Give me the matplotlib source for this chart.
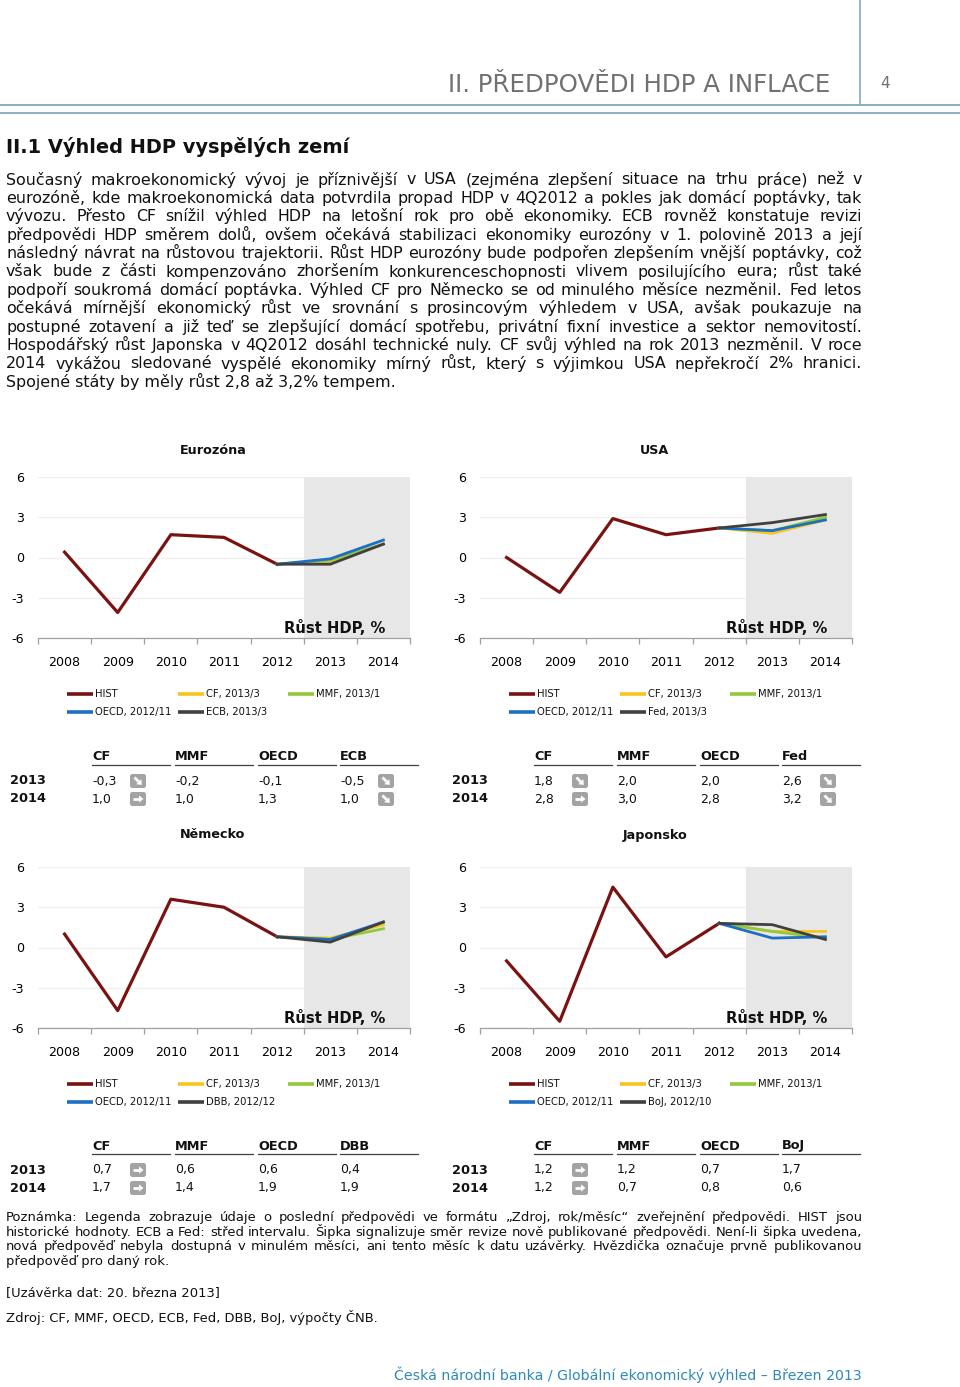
import numpy as np
import matplotlib
matplotlib.use("Agg")
import matplotlib.pyplot as plt
from matplotlib.patches import FancyBboxPatch

W, H = 960, 1387
FONT = "DejaVu Sans"

# ---- data -------------------------------------------------------------
years = ["2008", "2009", "2010", "2011", "2012", "2013", "2014"]
sources = ["CF", "MMF", "OECD"]

ez_hist = [0.4, -4.1, 1.7, 1.5, -0.5]
ez_fc13 = [-0.3, -0.2, -0.1, -0.5]
ez_fc14 = [1.0, 1.0, 1.3, 1.0]
ez_labels = ["HIST", "CF, 2013/3", "MMF, 2013/1", "OECD, 2012/11", "ECB, 2013/3"]
ez_arrows = [("d", "r"), None, None, ("d", "d")]

us_hist = [0.0, -2.6, 2.9, 1.7, 2.2]
us_fc13 = [1.8, 2.0, 2.0, 2.6]
us_fc14 = [2.8, 3.0, 2.8, 3.2]
us_labels = ["HIST", "CF, 2013/3", "MMF, 2013/1", "OECD, 2012/11", "Fed, 2013/3"]
us_arrows = [("d", "r"), None, None, ("d", "d")]

de_hist = [1.0, -4.7, 3.6, 3.0, 0.8]
de_fc13 = [0.7, 0.6, 0.6, 0.4]
de_fc14 = [1.7, 1.4, 1.9, 1.9]
de_labels = ["HIST", "CF, 2013/3", "MMF, 2013/1", "OECD, 2012/11", "DBB, 2012/12"]
de_arrows = [("r", "r"), None, None, None]

jp_hist = [-1.0, -5.5, 4.5, -0.7, 1.8]
jp_fc13 = [1.2, 1.2, 0.7, 1.7]
jp_fc14 = [1.2, 0.7, 0.8, 0.6]
jp_labels = ["HIST", "CF, 2013/3", "MMF, 2013/1", "OECD, 2012/11", "BoJ, 2012/10"]
jp_arrows = [("r", "r"), None, None, None]

yticks = [-6, -3, 0, 3, 6]

header = "II. PŘEDPOVĚDI HDP A INFLACE"
heading = "II.1 Výhled HDP vyspělých zemí"
body = [
    "Současný makroekonomický vývoj je příznivější v USA (zejména zlepšení situace na trhu práce) než v",
    "eurozóně, kde makroekonomická data potvrdila propad HDP v 4Q2012 a pokles jak domácí poptávky, tak",
    "vývozu. Přesto CF snížil výhled HDP na letošní rok pro obě ekonomiky. ECB rovněž konstatuje revizi",
    "předpovědi HDP směrem dolů, ovšem očekává stabilizaci ekonomiky eurozóny v 1. polovině 2013 a její",
    "následný návrat na růstovou trajektorii. Růst HDP eurozóny bude podpořen zlepšením vnější poptávky, což",
    "však bude z části kompenzováno zhoršením konkurenceschopnosti vlivem posilujícího eura; růst také",
    "podpoří soukromá domácí poptávka. Výhled CF pro Německo se od minulého měsíce nezměnil. Fed letos",
    "očekává mírnější ekonomický růst ve srovnání s prosincovým výhledem v USA, avšak poukazuje na",
    "postupné zotavení a již teď se zlepšující domácí spotřebu, privátní fixní investice a sektor nemovitostí.",
    "Hospodářský růst Japonska v 4Q2012 dosáhl technické nuly. CF svůj výhled na rok 2013 nezměnil. V roce",
    "2014 vykážou sledované vyspělé ekonomiky mírný růst, který s výjimkou USA nepřekročí 2% hranici.",
    "Spojené státy by měly růst 2,8 až 3,2% tempem.",
]
note = [
    "Poznámka: Legenda zobrazuje údaje o poslední předpovědi ve formátu „Zdroj, rok/měsíc“ zveřejnění předpovědi. HIST jsou",
    "historické hodnoty. ECB a Fed: střed intervalu. Šipka signalizuje směr revize nově publikované předpovědi. Není-li šipka uvedena,",
    "nová předpověď nebyla dostupná v minulém měsíci, ani tento měsíc k datu uzávěrky. Hvězdička označuje prvně publikovanou",
    "předpověď pro daný rok.",
]
closing = "[Uzávěrka dat: 20. března 2013]"
source = "Zdroj: CF, MMF, OECD, ECB, Fed, DBB, BoJ, výpočty ČNB."
footer = "Česká národní banka / Globální ekonomický výhled – Březen 2013"

colors = ["#f7c51e", "#92c83e", "#1c6fc4", "#404040"]
c_hist = "#7a1212"
c_line = "#7fa9c3"

panels = [
    ("Eurozóna", ez_hist, ez_fc13, ez_fc14, ez_labels, ez_arrows, 0, 0),
    ("USA", us_hist, us_fc13, us_fc14, us_labels, us_arrows, 442, 0),
    ("Německo", de_hist, de_fc13, de_fc14, de_labels, de_arrows, 0, 390),
    ("Japonsko", jp_hist, jp_fc13, jp_fc14, jp_labels, jp_arrows, 442, 390),
]

# ---- page -------------------------------------------------------------
fig = plt.figure(figsize=(W / 100, H / 100), dpi=100)
renderer = fig.canvas.get_renderer()
page = fig.add_axes([0, 0, 1, 1])
page.set_xlim(0, W)
page.set_ylim(H, 0)
page.axis("off")


def width_of(s, size, weight="normal"):
    t = page.text(0, 0, s, fontsize=size, fontweight=weight, family=FONT)
    w = t.get_window_extent(renderer).width
    t.remove()
    return w


def fit(s, px, weight="normal"):
    return 10 * px / width_of(s, 10, weight)


def justify(lines, x0, x1, y0, step, size, color="#111111"):
    for i, line in enumerate(lines):
        y = y0 + i * step
        words = line.split()
        if i == len(lines) - 1:
            page.text(x0, y, line, fontsize=size, family=FONT, color=color, va="baseline")
            continue
        ws = [width_of(w, size) for w in words]
        gap = (x1 - x0 - sum(ws)) / (len(words) - 1)
        x = x0
        for w, wd in zip(words, ws):
            page.text(x, y, w, fontsize=size, family=FONT, color=color, va="baseline")
            x += wd + gap


# header
page.text(830, 92, header, fontsize=fit(header, 382), family=FONT, color="#707070",
          ha="right", va="baseline")
page.text(880, 88, "4", fontsize=11, family=FONT, color="#707070", va="baseline")
page.plot([860, 860], [0, 104], color=c_line, lw=1.2)
page.plot([0, W], [104.5, 104.5], color=c_line, lw=1.3)
page.plot([0, W], [113, 113], color=c_line, lw=1.3)

page.text(6, 153, heading, fontsize=fit(heading, 343, "bold"), fontweight="bold",
          family=FONT, color="#111111", va="baseline")

s_body = min(fit(body[-1], 390), min(856 / width_of(l, 10) * 10 for l in body[:-1]))
justify(body, 6, 862, 184.5, 18.4, s_body)

s_note = min(fit(note[-1], 162), min(856 / width_of(l, 10) * 10 for l in note[:-1]))
justify(note, 6, 862, 1221, 14.7, s_note)
page.text(6, 1296, closing, fontsize=s_note, family=FONT, color="#111111", va="baseline")
page.text(6, 1322, source, fontsize=s_note, family=FONT, color="#111111", va="baseline")
page.text(862, 1380, footer, fontsize=fit(footer, 465), family=FONT, color="#2f89b9",
          ha="right", va="baseline")

s_tick = fit("2008", 32)
s_title = fit("Eurozóna", 67, "bold")
s_rust = fit("Růst HDP, %", 101, "bold")
s_leg = fit("OECD, 2012/11", 77)
s_tb = fit("OECD", 40, "bold")
s_tv = fit("-0,3", 24)


def arrow_icon(cx, cy, kind):
    page.add_patch(FancyBboxPatch((cx - 8, cy - 7), 16, 14,
                                  boxstyle="round,pad=0,rounding_size=2.5",
                                  fc="#a3a3a3", ec="none", zorder=3))
    d = np.array([1.0, 0.0]) if kind == "r" else np.array([1.0, 1.0]) / np.sqrt(2)
    n = np.array([-d[1], d[0]])
    c = np.array([cx, cy])
    tail, tip = c - 5.0 * d, c + 5.5 * d
    base = tip - 4.5 * d
    page.plot([tail[0], base[0]], [tail[1], base[1]], color="white", lw=2.0,
              solid_capstyle="butt", zorder=4)
    tri = np.array([tip, base + 3.6 * n, base - 3.6 * n])
    page.fill(tri[:, 0], tri[:, 1], color="white", lw=0, zorder=4)


x = np.arange(len(years))
for title, hist, fc13, fc14, labels, arrows, dx, dy in panels:
    left, right = 38 + dx, 410 + dx
    top, bottom = 477 + dy, 638 + dy
    ax = fig.add_axes([left / W, 1 - bottom / H, (right - left) / W, (bottom - top) / H])
    ax.axvspan(4.5, 6.5, color="#e7e7e7", zorder=1, lw=0)
    ax.plot(x[:5], hist, color=c_hist, lw=2.3, zorder=3)
    names = sources + [labels[4].split(",")[0]]
    for i, nm in enumerate(names):
        ax.plot(x[4:], [hist[-1], fc13[i], fc14[i]], color=colors[i], lw=2.0, zorder=3)
    ax.set_xlim(-0.5, 6.5)
    ax.set_ylim(-6, 6)
    ax.set_yticks(yticks)
    ax.set_yticklabels([str(v) for v in yticks], fontsize=s_tick, family=FONT)
    ax.set_xticks(x)
    ax.set_xticklabels(years, fontsize=s_tick, family=FONT)
    ax.set_xticks(np.arange(-0.5, 7, 1), minor=True)
    ax.tick_params(axis="x", which="major", length=0, pad=13)
    ax.tick_params(axis="x", which="minor", length=4, color="#a0a0a0", width=0.9)
    ax.tick_params(axis="y", length=0, pad=10)
    ax.grid(axis="y", color="#efefef", lw=0.9)
    ax.set_axisbelow(True)
    for sp in ["top", "right", "left"]:
        ax.spines[sp].set_visible(False)
    ax.spines["bottom"].set_color("#a0a0a0")
    ax.spines["bottom"].set_linewidth(0.9)
    ax.text(6.04, -5.65, "Růst HDP, %", fontsize=s_rust, fontweight="bold", family=FONT,
            ha="right", va="baseline", color="#111111", zorder=4)
    page.text(left + 0.47 * (right - left), 450 + (385 if dy else 0), title,
              fontsize=s_title, fontweight="bold", family=FONT, ha="center", va="center",
              color="#111111")

    # legend
    slots = [(0, 0), (1, 0), (2, 0), (0, 1), (1, 1)]
    lcolors = [c_hist] + colors
    for (col, row), lab, lc in zip(slots, labels, lcolors):
        lx = 67 + dx + col * 110.5
        ly = 694 + dy + row * 18
        page.plot([lx, lx + 26], [ly, ly], color=lc, lw=2.6, solid_capstyle="butt")
        page.text(lx + 28, ly, lab, fontsize=s_leg, family=FONT, va="center", color="#111111")

    # table
    ty = 757 + dy - (1 if dy else 0)
    cols = [92 + dx, 175 + dx, 258 + dx, 340 + dx]
    for cx, nm in zip(cols, names):
        page.text(cx, ty, nm, fontsize=s_tb, fontweight="bold", family=FONT,
                  va="center", color="#111111")
        page.plot([cx, cx + 78], [ty + 8, ty + 8], color="#404040", lw=0.9)
    for r, (yr, vals) in enumerate([("2013", fc13), ("2014", fc14)]):
        ry = ty + 24 + r * 18
        page.text(10 + dx, ry, yr, fontsize=s_tb, fontweight="bold", family=FONT,
                  va="center", color="#111111")
        for i, cx in enumerate(cols):
            page.text(cx, ry, f"{vals[i]:.1f}".replace(".", ","), fontsize=s_tv,
                      family=FONT, va="center", color="#111111")
            if arrows[i] is not None:
                arrow_icon(cx + 46, ry, arrows[i][r])

fig.savefig("out.png", dpi=100)
